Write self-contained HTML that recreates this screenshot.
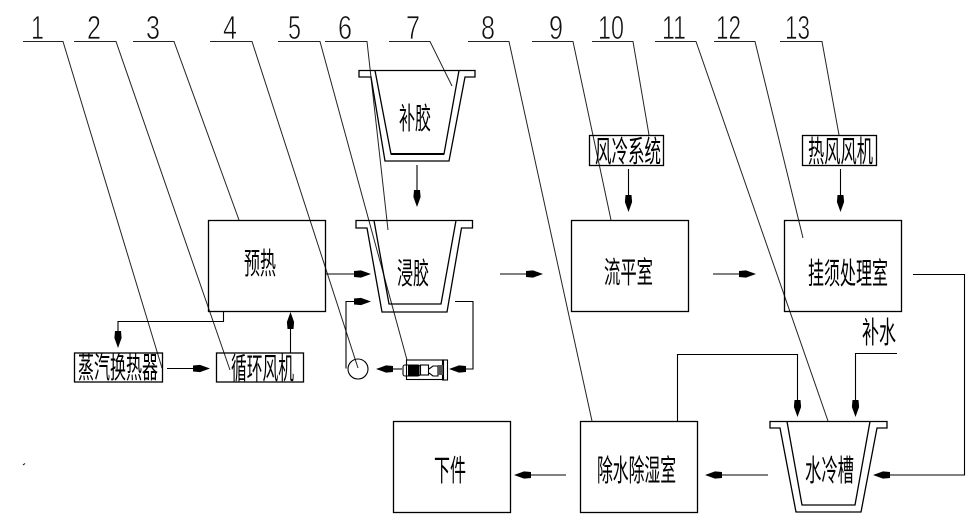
<!DOCTYPE html>
<html><head><meta charset="utf-8"><style>
html,body{margin:0;padding:0;background:#fff;width:973px;height:525px;overflow:hidden}
svg{display:block}
.l{fill:none;stroke:#000;stroke-width:1.1}
.t{fill:none;stroke:#000;stroke-width:1.3}
.d{fill:none;stroke:#222;stroke-width:1}
.c{font-family:"Liberation Sans","WenQuanYi Zen Hei","Noto Sans CJK SC",sans-serif;font-size:30px;fill:#000}
.n{font-family:"Liberation Sans",sans-serif;font-size:33px;fill:#111;stroke:#fff;stroke-width:.7}
</style></head><body>
<svg width="973" height="525" viewBox="0 0 973 525" xmlns="http://www.w3.org/2000/svg">
<defs>
<path id="ar" d="M0 0L-10 -3.6L-17 -3L-17 3L-10 3.6Z" fill="#000"/>
</defs>
<!-- numbers -->
<g class="n">
<text x="31" y="39" textLength="13" lengthAdjust="spacingAndGlyphs">1</text>
<text x="87" y="39" textLength="14" lengthAdjust="spacingAndGlyphs">2</text>
<text x="146" y="39" textLength="14" lengthAdjust="spacingAndGlyphs">3</text>
<text x="223" y="39" textLength="14" lengthAdjust="spacingAndGlyphs">4</text>
<text x="288" y="39" textLength="13" lengthAdjust="spacingAndGlyphs">5</text>
<text x="338" y="39" textLength="14" lengthAdjust="spacingAndGlyphs">6</text>
<text x="406" y="39" textLength="14" lengthAdjust="spacingAndGlyphs">7</text>
<text x="481" y="39" textLength="14" lengthAdjust="spacingAndGlyphs">8</text>
<text x="549" y="39" textLength="14" lengthAdjust="spacingAndGlyphs">9</text>
<text x="598" y="39" textLength="26" lengthAdjust="spacingAndGlyphs">10</text>
<text x="662" y="39" textLength="24" lengthAdjust="spacingAndGlyphs">11</text>
<text x="716" y="39" textLength="25" lengthAdjust="spacingAndGlyphs">12</text>
<text x="785" y="39" textLength="25" lengthAdjust="spacingAndGlyphs">13</text>
</g>
<!-- leaders -->
<g class="d">
<polyline points="23,41.5 63,41.5 162,368"/>
<polyline points="74,41.5 116,41.5 230,370"/>
<polyline points="133,41.5 174,41.5 239,220"/>
<polyline points="210,41.5 252,41.5 358,368"/>
<polyline points="278,41.5 320,41.5 407,360"/>
<polyline points="325,41.5 367,41.5 388,230"/>
<polyline points="389,41.5 430,41.5 452,86"/>
<polyline points="468,41.5 509,41.5 592,421"/>
<polyline points="532,41.5 573,41.5 611,220"/>
<polyline points="592,41.5 633,41.5 649,135"/>
<polyline points="655,41.5 696,41.5 828,421"/>
<polyline points="714,41.5 755,41.5 803,238"/>
<polyline points="780,41.5 822,41.5 839,135"/>
</g>
<!-- boxes -->
<g class="t">
<rect x="208.5" y="220.5" width="117" height="91"/>
<rect x="571.5" y="220.5" width="117" height="91"/>
<rect x="784.5" y="220.5" width="117" height="91"/>
<rect x="393.5" y="421.5" width="117" height="91"/>
<rect x="580.5" y="421.5" width="117" height="91"/>
<rect x="74.5" y="353" width="88" height="29"/>
<rect x="216.5" y="353" width="87" height="29"/>
<rect x="589.5" y="135.5" width="74" height="30"/>
<rect x="802.5" y="135.5" width="74" height="30"/>
</g>
<!-- tanks -->
<g class="t">
<path d="M359 70.5H475V77H465L449 161H385L371 77H359Z"/>
<path d="M375 70.5L391 154H444L459 70.5"/>
<path d="M391 154H444" stroke-width="2"/>
<path d="M356 220.5H472.5V228H461.5L447 312H382L367 228H356Z"/>
<path d="M374 220.5L389 304H441L456 220.5"/>
<path d="M770 421.5H887V428H877L861 512H796L780 428H770Z"/>
<path d="M787 421.5L802 505H855L870 421.5"/>
</g>
<!-- connectors -->
<g class="l">
<path d="M417 165V195"/>
<path d="M628.5 169V200"/>
<path d="M840.5 169V200"/>
<path d="M326 274H360"/>
<path d="M500 274H532"/>
<path d="M713 274H745"/>
<path d="M913 274.5H964.5V475H884"/>
<path d="M768 475H716"/>
<path d="M566 475H525"/>
<path d="M677.5 421V354.5H797.5V405"/>
<path d="M897 353.5H855.5V405"/>
<path d="M223.5 312V321.5H118V336"/>
<path d="M167 368.5H198"/>
<path d="M290.5 353V324"/>
<path d="M346 368.5V301.5H360"/>
<path d="M455 301.5H473V369H460"/>
<circle cx="358" cy="369" r="10"/>
<path d="M388 369H402"/>
</g>
<!-- arrowheads -->
<use href="#ar" transform="translate(417 207) rotate(90)"/>
<use href="#ar" transform="translate(628.5 212) rotate(90)"/>
<use href="#ar" transform="translate(840.5 212) rotate(90)"/>
<use href="#ar" transform="translate(371 274)"/>
<use href="#ar" transform="translate(543 274)"/>
<use href="#ar" transform="translate(756 274)"/>
<use href="#ar" transform="translate(873 475) rotate(180)"/>
<use href="#ar" transform="translate(705 475) rotate(180)"/>
<use href="#ar" transform="translate(514 475) rotate(180)"/>
<use href="#ar" transform="translate(797.5 417) rotate(90)"/>
<use href="#ar" transform="translate(855.5 417) rotate(90)"/>
<use href="#ar" transform="translate(118 348) rotate(90)"/>
<use href="#ar" transform="translate(210 368.5)"/>
<use href="#ar" transform="translate(290.5 312) rotate(-90)"/>
<use href="#ar" transform="translate(371 301.5)"/>
<use href="#ar" transform="translate(449 369) rotate(180)"/>
<use href="#ar" transform="translate(376 369) rotate(180)"/>
<!-- motor -->
<g class="l">
<rect x="403" y="365" width="17" height="11" rx="2"/>
<rect x="406.5" y="360" width="37" height="19.5"/>
<rect x="420.5" y="365" width="8" height="10"/>
<path d="M429 369L433 366H438V376H433L429 373"/>
<rect x="442.5" y="360" width="5" height="20"/>
</g>
<rect x="408" y="365" width="11" height="11" fill="#000"/>
<rect x="438" y="365" width="5" height="10" fill="#555"/>
<!-- labels -->
<g class="c">
<text x="399" y="129" textLength="32" lengthAdjust="spacingAndGlyphs">补胶</text>
<text x="244" y="274" textLength="32" lengthAdjust="spacingAndGlyphs">预热</text>
<text x="397" y="284" textLength="32" lengthAdjust="spacingAndGlyphs">浸胶</text>
<text x="604" y="283" textLength="49" lengthAdjust="spacingAndGlyphs">流平室</text>
<text x="808" y="284" textLength="80" lengthAdjust="spacingAndGlyphs">挂须处理室</text>
<text x="595" y="162" textLength="66" lengthAdjust="spacingAndGlyphs">风冷系统</text>
<text x="808" y="162" textLength="65" lengthAdjust="spacingAndGlyphs">热风风机</text>
<text x="78" y="378" textLength="80" lengthAdjust="spacingAndGlyphs">蒸汽换热器</text>
<text x="231" y="379" textLength="63" lengthAdjust="spacingAndGlyphs">循环风机</text>
<text x="434" y="481" textLength="32" lengthAdjust="spacingAndGlyphs">下件</text>
<text x="597" y="481" textLength="79" lengthAdjust="spacingAndGlyphs">除水除湿室</text>
<text x="805" y="481" textLength="49" lengthAdjust="spacingAndGlyphs">水冷槽</text>
<text x="862" y="343" textLength="34" lengthAdjust="spacingAndGlyphs">补水</text>
</g>
<path d="M23 465L25 463.5" stroke="#000" stroke-width="1"/>
</svg>
</body></html>
